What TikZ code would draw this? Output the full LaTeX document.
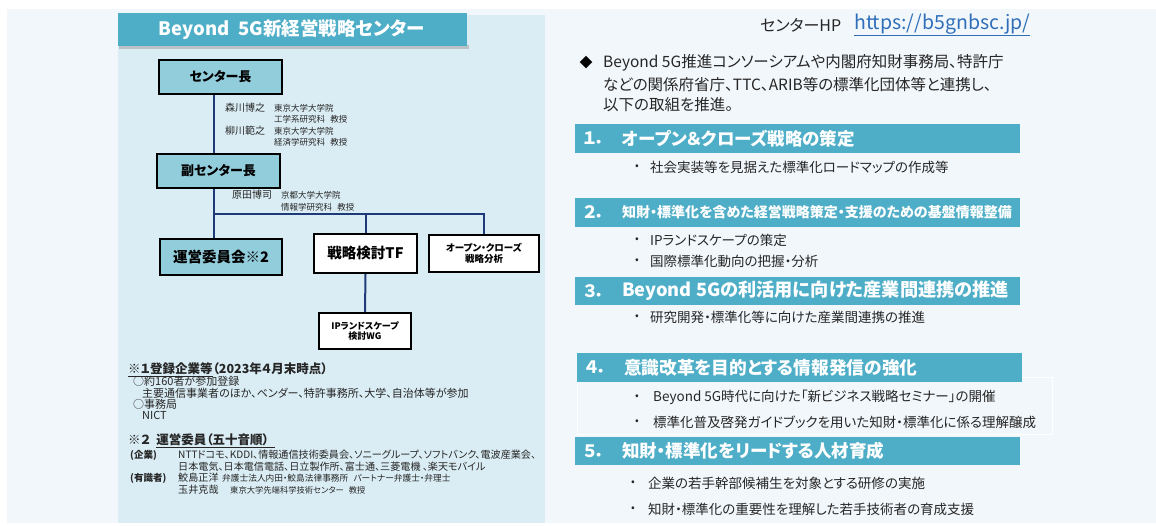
\documentclass[tikz,border=0pt]{standalone}
\usepackage{fontspec}
\setmainfont{Noto Sans CJK JP}[RawFeature=+palt]
\definecolor{pagebg}{HTML}{F2F7FB}
\definecolor{panel}{HTML}{DAEDF4}
\definecolor{barcol}{HTML}{4FAEC7}
\definecolor{orgfill}{HTML}{92CDDC}
\definecolor{navy}{HTML}{1F3A78}
\definecolor{ink}{HTML}{262626}
\definecolor{linkblue}{HTML}{2F6FBA}
\newcommand\fs[1]{\fontsize{#1}{#1}\selectfont}
\begin{document}
\begin{tikzpicture}[x=1pt,y=-1pt,
  txt/.style={inner sep=0pt, anchor=west, text=ink},
  org/.style={draw=black, line width=2.2pt, inner sep=0pt, align=center, text=black},
  conn/.style={draw=navy, line width=2pt},
  barbox/.style={fill=barcol, inner sep=0pt, anchor=north west, minimum width=445pt, minimum height=29pt},
  hnum/.style={txt, text=white, font=\fs{17}\bfseries},
  htxt/.style={txt, text=white, font=\fs{17.5}\bfseries},
  bul/.style={inner sep=0pt, anchor=center, text=ink, font=\fs{11}},
  btxt/.style={txt, font=\fs{13.5}},
  smalltxt/.style={txt, font=\fs{8.5}},
  pname/.style={txt, font=\fs{10}},
  notetxt/.style={txt, font=\fs{11}},
  notehead/.style={txt, font=\fs{12.5}\bfseries},
  memb/.style={txt, font=\fs{10.1}}]
\useasboundingbox (0,0) rectangle (1156,525);
\fill[white] (0,0) rectangle (1156,525);
\fill[pagebg] (7,9) rectangle (1156,523);
% left panel
\fill[panel] (118,15) rectangle (545,523);
\fill[black!35, opacity=.6] (119,45) rectangle (469,49);
\node[fill=barcol, inner sep=0pt, anchor=north west, minimum width=349pt, minimum height=33pt] (titlebar) at (118,13) {};
\node[txt, anchor=center, text=white, font=\fs{18.5}\bfseries] (title) at (292,30) {Beyond\ \ 5G新経営戦略センター};

% org chart
\coordinate (j) at (214,214);
\node[org, fill=orgfill, minimum width=123pt, minimum height=34pt, font=\fs{13}\bfseries] (ctr) at (220.5,77) {センター長};
\node[org, fill=orgfill, minimum width=123pt, minimum height=34pt, font=\fs{13}\bfseries] (vice) at (218.5,171) {副センター長};
\node[org, fill=orgfill, minimum width=122pt, minimum height=36pt, font=\fs{14.5}\bfseries] (unei) at (221,257) {運営委員会※2};
\node[org, fill=white, minimum width=103pt, minimum height=39pt, font=\fs{14.5}\bfseries] (tf) at (365.5,253.5) {戦略検討TF};
\node[org, fill=white, minimum width=110pt, minimum height=37pt, font=\fs{9.5}\bfseries] (oc) at (484,253.5) {オープン・クローズ\\[1pt]戦略分析};
\node[org, fill=white, minimum width=92pt, minimum height=36pt, font=\fs{9}\bfseries] (ip) at (365,331) {IPランドスケープ\\[1pt]検討WG};
\draw[conn] (ctr.south -| j) -- (vice.north -| j);
\draw[conn] (vice.south -| j) -- (unei.north -| j);
\draw[conn] (j) -- (j -| oc.north) -- (oc.north);
\draw[conn] (j -| tf.north) -- (tf.north);
\draw[conn] (tf.south) -- (ip.north);

\node[pname] (n1) at (225,108) {森川博之};
\node[smalltxt] (a1) at (274,108) {東京大学大学院};
\node[smalltxt] (a2) at (274,119) {工学系研究科\hspace{.6em}教授};
\node[pname] (n2) at (225,131) {柳川範之};
\node[smalltxt] (a3) at (274,131) {東京大学大学院};
\node[smalltxt] (a4) at (274,142) {経済学研究科\hspace{.6em}教授};
\node[pname] (n3) at (232,195) {原田博司};
\node[smalltxt] (a5) at (281,195) {京都大学大学院};
\node[smalltxt] (a6) at (281,207) {情報学研究科\hspace{.6em}教授};

% notes
\node[notehead] (h1) at (128,370) {\underline{※１登録企業等}（2023年４月末時点）};
\node[notetxt] (l1) at (133,381.5) {○約160者が参加登録};
\node[notetxt] (l2) at (142,393) {主要通信事業者のほか、ベンダー、特許事務所、大学、自治体等が参加};
\node[notetxt] (l3) at (133,404) {○事務局};
\node[notetxt] (l4) at (142,415) {NICT};
\node[notehead] (h2) at (128,441) {※２\hspace{.5em}\underline{運営委員（五十音順）\hspace{.5em}}};
\node[memb, font=\fs{9.5}\bfseries] (k1) at (130,455) {(企業)};
\node[memb] (k2) at (178,455) {NTTドコモ、KDDI、情報通信技術委員会、ソニーグループ、ソフトバンク、電波産業会、};
\node[memb] (k3) at (178,467) {日本電気、日本電信電話、日立製作所、富士通、三菱電機\ 、楽天モバイル};
\node[memb, font=\fs{9.5}\bfseries] (y1) at (130,478) {(有識者)};
\node[memb] (y2) at (178,478) {鮫島正洋};
\node[smalltxt, font=\fs{8.7}] (y3) at (222,478) {弁護士法人内田・鮫島法律事務所\hspace{.6em}パートナー弁護士・弁理士};
\node[memb] (y4) at (178,490) {玉井克哉};
\node[smalltxt, font=\fs{8.3}] (y5) at (230,490) {東京大学先端科学技術センター\hspace{.6em}教授};

% right column
\node[txt, font=\fs{16}] (hp) at (760,25) {センターHP};
\node[txt, font=\fs{19.5}, text=linkblue] (url) at (854,25) {\underline{https://b5gnbsc.jp/}};
\node[inner sep=0pt, text=black, font=\fs{13}] (dia) at (586,63) {◆};
\node[txt, font=\fs{15.5}] (i1) at (603,63) {Beyond 5G推進コンソーシアムや内閣府知財事務局、特許庁};
\node[txt, font=\fs{15.5}] (i2) at (603,85) {などの関係府省庁、TTC、ARIB等の標準化団体等と連携し、};
\node[txt, font=\fs{15.5}] (i3) at (603,105) {以下の取組を推進。};

% section 1
\node[barbox] (b1) at (575,124) {};
\node[hnum] (m1) at (583,138.5) {１．};
\node[htxt] (s1) at (622,138.5) {オープン＆クローズ戦略の策定};
\node[bul] (d1) at (637,167) {•};
\node[btxt] (p1) at (650,167) {社会実装等を見据えた標準化ロードマップの作成等};
% section 2
\node[barbox] (b2) at (575,198) {};
\node[hnum] (m2) at (583,212.5) {２．};
\node[htxt, font=\fs{14}\bfseries] (s2) at (622,212.5) {知財・標準化を含めた経営戦略策定・支援のための基盤情報整備};
\node[bul] (d2) at (637,240) {•};
\node[btxt] (p2) at (650,240) {IPランドスケープの策定};
\node[bul] (d3) at (637,261) {•};
\node[btxt] (p3) at (650,261) {国際標準化動向の把握・分析};
% section 3
\node[barbox, minimum height=28pt] (b3) at (575,277) {};
\node[hnum] (m3) at (583,291) {３．};
\node[htxt, font=\fs{18.2}\bfseries] (s3) at (622,291) {Beyond 5Gの利活用に向けた産業間連携の推進};
\node[bul] (d4) at (637,317) {•};
\node[btxt] (p4) at (650,317) {研究開発・標準化等に向けた産業間連携の推進};
% section 4
\draw[white, line width=1pt] (577,377) rectangle (1052,434);
\node[barbox] (b4) at (577,353) {};
\node[hnum] (m4) at (585,367.5) {４．};
\node[htxt, font=\fs{17.7}\bfseries] (s4) at (624,367.5) {意識改革を目的とする情報発信の強化};
\node[bul] (d5) at (637,397) {•};
\node[btxt] (p5) at (653,397) {Beyond 5G時代に向けた「新ビジネス戦略セミナー」の開催};
\node[bul] (d6) at (637,422) {•};
\node[btxt] (p6) at (653,422) {標準化普及啓発ガイドブックを用いた知財・標準化に係る理解醸成};
% section 5
\node[barbox, minimum height=28pt] (b5) at (575,437) {};
\node[hnum] (m5) at (583,451) {５．};
\node[htxt] (s5) at (622,451) {知財・標準化をリードする人材育成};
\node[bul] (d7) at (633,483) {•};
\node[btxt] (p7) at (648,483) {企業の若手幹部候補生を対象とする研修の実施};
\node[bul] (d8) at (633,509) {•};
\node[btxt] (p8) at (648,509) {知財・標準化の重要性を理解した若手技術者の育成支援};
\end{tikzpicture}
\end{document}
